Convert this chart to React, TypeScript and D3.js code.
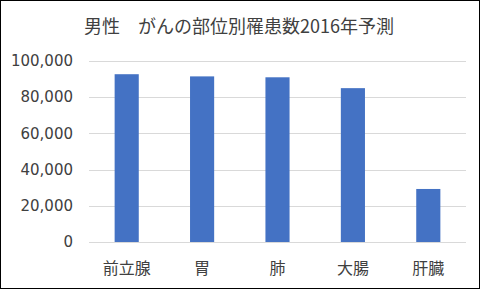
import React from "react";
import * as d3 from "d3";

const categories = ["前立腺", "胃", "肺", "大腸", "肝臓"];
const values = [92700, 91500, 91000, 85000, 29300];
const yTicks = [0, 20000, 40000, 60000, 80000, 100000];
const title = "男性　がんの部位別罹患数2016年予測";

const W = 480;
const H = 289;
const margin = { left: 89, right: 14, top: 61, bottom: 47 };

export default function App() {
  const x = d3
    .scaleBand<string>()
    .domain(categories)
    .range([margin.left, W - margin.right])
    .paddingInner(0.68)
    .paddingOuter(0.34);
  const y = d3.scaleLinear().domain([0, 100000]).range([H - margin.bottom, margin.top]);
  const fmt = d3.format(",");
  const fontAxis = "'DejaVu Sans', Verdana, sans-serif";
  const fontCJK = "'Noto Sans CJK JP', 'Noto Sans', sans-serif";
  return (
    <svg
      width={W}
      height={H}
      style={{ position: "absolute", left: 0, top: 0, background: "#fff" }}
    >
      <rect x={0.5} y={0.5} width={W - 1} height={H - 1} fill="#fff" stroke="#000" strokeWidth={1} />
      <text
        x={239}
        y={33}
        textAnchor="middle"
        fontFamily={fontCJK}
        fontSize={18}
        fill="#404040"
      >
        {title}
      </text>
      {yTicks.map((t) => (
        <g key={t}>
          <line
            x1={margin.left}
            x2={W - margin.right}
            y1={Math.round(y(t)) + 0.5}
            y2={Math.round(y(t)) + 0.5}
            stroke="#d9d9d9"
            strokeWidth={1}
          />
          <text
            x={73}
            y={y(t)}
            dy="0.35em"
            textAnchor="end"
            fontFamily={fontAxis}
            fontSize={15}
            fill="#404040"
          >
            {fmt(t)}
          </text>
        </g>
      ))}
      {categories.map((c, i) => (
        <rect
          key={c}
          x={x(c)}
          y={y(values[i])}
          width={x.bandwidth()}
          height={y(0) - y(values[i])}
          fill="#4472c4"
        />
      ))}
      {categories.map((c) => (
        <text
          key={c}
          x={(x(c) as number) + x.bandwidth() / 2}
          y={274}
          textAnchor="middle"
          fontFamily={fontCJK}
          fontSize={16}
          fill="#404040"
        >
          {c}
        </text>
      ))}
    </svg>
  );
}
